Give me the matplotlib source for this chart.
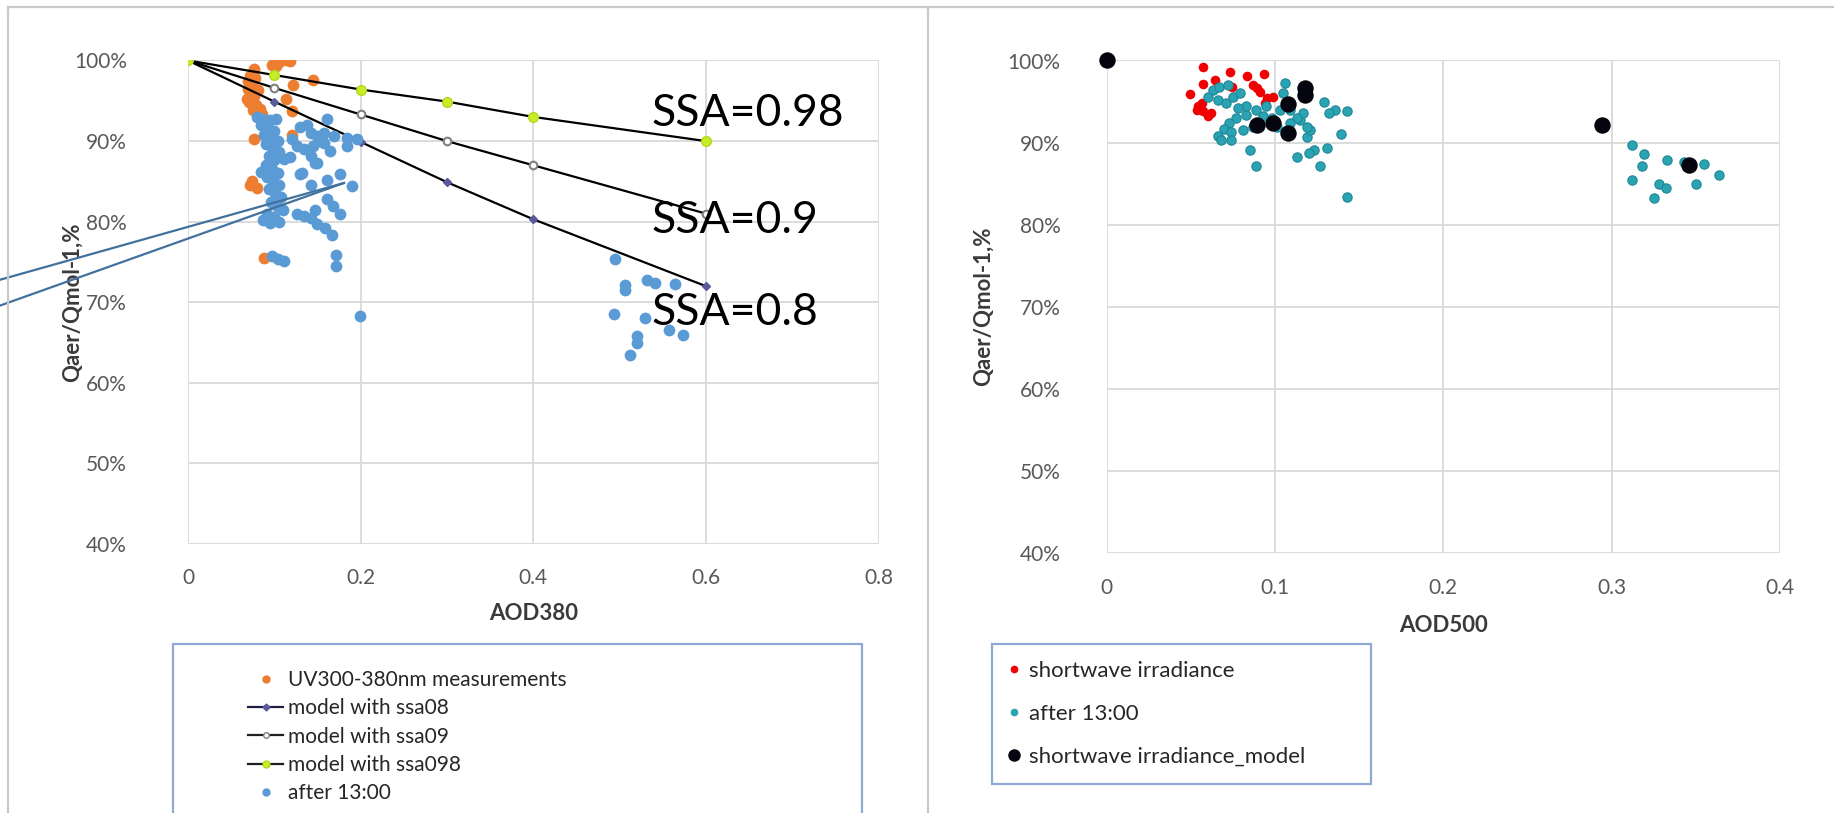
import matplotlib
matplotlib.use("Agg")
import matplotlib.pyplot as plt
from matplotlib.lines import Line2D
from matplotlib.patches import Rectangle
from matplotlib.ticker import PercentFormatter

plt.rcParams['font.family'] = ['Lato', 'DejaVu Sans']

# ---------------- left chart data (AOD380) ----------------
uv_x = [0.097, 0.105, 0.113, 0.118, 0.102, 0.076, 0.072, 0.070, 0.074, 0.069,
        0.072, 0.076, 0.068, 0.071, 0.079, 0.083, 0.075, 0.086, 0.078, 0.081,
        0.145, 0.122, 0.113, 0.120, 0.120, 0.076, 0.072, 0.080, 0.088, 0.074]
uv_y = [99.5, 99.8, 100.0, 99.9, 99.3, 98.9, 98.1, 97.5, 97.0, 96.5,
        96.0, 95.6, 95.2, 94.8, 94.5, 94.0, 93.8, 93.4, 97.8, 96.3,
        97.6, 97.0, 95.2, 93.7, 90.8, 90.2, 84.6, 84.2, 75.5, 85.0]

after_x = [0.080, 0.087, 0.095, 0.102, 0.084, 0.092, 0.100, 0.088, 0.096, 0.104,
           0.090, 0.098, 0.106, 0.094, 0.100, 0.090, 0.097, 0.104, 0.092, 0.099,
           0.106, 0.094, 0.101, 0.108, 0.096, 0.103, 0.110, 0.092, 0.100, 0.087,
           0.095, 0.105, 0.111, 0.084,
           0.161, 0.130, 0.142, 0.149, 0.157, 0.169, 0.184, 0.196, 0.126, 0.134,
           0.145, 0.157, 0.184, 0.142, 0.149, 0.130, 0.142, 0.161, 0.176, 0.190,
           0.161, 0.168, 0.176, 0.126, 0.134, 0.142, 0.132, 0.147, 0.147, 0.149,
           0.159, 0.167, 0.171, 0.172, 0.097, 0.111, 0.104, 0.199,
           0.138, 0.153, 0.165, 0.121, 0.118,
           0.495, 0.506, 0.506, 0.532, 0.541, 0.564, 0.493, 0.530, 0.520, 0.520,
           0.557, 0.574, 0.512]
after_y = [93.0, 92.8, 92.6, 92.7, 92.0, 91.6, 91.2, 90.8, 90.3, 90.0,
           89.6, 89.0, 88.6, 88.2, 87.6, 87.0, 86.5, 86.0, 85.6, 85.0,
           84.5, 84.0, 83.5, 83.0, 82.5, 82.0, 81.5, 81.0, 80.6, 80.2,
           79.8, 80.0, 87.8, 86.2,
           92.7, 91.8, 91.0, 90.6, 91.0, 90.6, 90.4, 90.2, 89.4, 89.0,
           89.4, 89.8, 89.4, 88.1, 87.3, 85.9, 84.6, 85.2, 85.9, 84.4,
           82.8, 81.9, 80.9, 80.9, 80.7, 80.5, 86.1, 87.3, 81.5, 79.7,
           79.2, 78.4, 75.9, 74.5, 75.7, 75.1, 75.4, 68.3,
           92.0, 90.0, 88.8, 90.2, 88.0,
           75.4, 72.2, 71.5, 72.8, 72.4, 72.3, 68.5, 68.1, 65.8, 65.0,
           66.6, 65.9, 63.4]

model_x = [0, 0.1, 0.2, 0.3, 0.4, 0.6]
ssa08 = [100, 94.9, 89.9, 84.9, 80.3, 72.0]
ssa09 = [100, 96.6, 93.3, 90.0, 87.0, 81.0]
ssa098 = [100, 98.2, 96.4, 94.9, 93.0, 90.0]

ssa_labels = ['SSA=0.98', 'SSA=0.9', 'SSA=0.8']
ssa_label_y = [93.4, 80.1, 68.7]

# callout pointer lines (data units of left chart)
callout_x = [-0.2175, 0.1807]
callout_y1 = [72.8, 84.8]
callout_y2 = [69.6, 84.8]

# ---------------- right chart data (AOD500) ----------------
sw_x = [0.0575, 0.0734, 0.0833, 0.0938, 0.0575, 0.0645, 0.0744, 0.0872, 0.0496, 0.0545,
        0.0575, 0.0605, 0.0535, 0.0912, 0.0952, 0.0990, 0.0942, 0.0892, 0.0570, 0.0620]
sw_y = [99.25, 98.6, 98.1, 98.4, 97.1, 97.6, 96.8, 97.0, 95.9, 94.4,
        93.8, 93.2, 94.0, 96.2, 95.4, 95.6, 94.8, 96.6, 94.8, 93.6]

aft_x = [0.106, 0.129, 0.136, 0.132, 0.143, 0.139, 0.131, 0.123, 0.120, 0.113,
         0.127, 0.143, 0.085, 0.089, 0.119, 0.121, 0.115, 0.117, 0.095, 0.103,
         0.109, 0.083, 0.077, 0.073, 0.070, 0.066, 0.063, 0.060, 0.066, 0.071,
         0.075, 0.079, 0.083, 0.089, 0.093, 0.087, 0.081, 0.074, 0.068, 0.074,
         0.113, 0.109, 0.101, 0.119, 0.105, 0.067, 0.072, 0.078, 0.098,
         0.312, 0.319, 0.318, 0.312, 0.333, 0.328, 0.332, 0.325, 0.343, 0.355,
         0.364, 0.350]
aft_y = [97.3, 95.0, 94.0, 93.6, 93.8, 91.1, 89.3, 89.1, 88.7, 88.3,
         87.1, 83.4, 89.1, 87.1, 90.7, 91.5, 92.8, 93.6, 94.4, 94.0,
         94.0, 93.4, 93.0, 92.4, 91.6, 90.8, 96.4, 95.6, 95.2, 94.8,
         95.6, 96.0, 94.4, 94.0, 93.2, 91.9, 91.5, 91.3, 90.3, 90.3,
         93.0, 92.4, 91.9, 91.9, 96.0, 96.8, 97.0, 94.2, 93.0,
         89.7, 88.6, 87.1, 85.5, 87.9, 84.9, 84.5, 83.2, 87.6, 87.4,
         86.0, 84.9]

mdl_x = [0.0, 0.0893, 0.0987, 0.108, 0.108, 0.1177, 0.118, 0.294, 0.346]
mdl_y = [100.0, 92.2, 92.35, 91.2, 94.7, 95.8, 96.6, 92.2, 87.3]

# ---------------- figure ----------------
W, H = 1834, 813
fig = plt.figure(figsize=(W / 100, H / 100), dpi=100)


def fx(px):
    return px / W


def fy(py):
    return 1 - py / H


tick_col = '#595959'
title_col = '#3A3A3A'
grid_col = '#D9D9D9'
orange = '#ED7D31'
blue = '#5B9BD5'
teal = '#2AA3B3'
FS = 15


def style_axes(ax, xmax, xstep, xlabel, ypad, xpad):
    ax.set_ylim(40, 100)
    ax.set_xlim(0, xmax)
    ax.set_yticks(range(40, 101, 10))
    ax.set_xticks([i * xstep for i in range(int(round(xmax / xstep)) + 1)])
    ax.xaxis.set_major_formatter(lambda v, p: '0' if v == 0 else ('%g' % v))
    ax.yaxis.set_major_formatter(PercentFormatter(decimals=0))
    ax.grid(True, color=grid_col, lw=1.3)
    ax.set_axisbelow(True)
    for s in ax.spines.values():
        s.set_visible(False)
    ax.tick_params(length=0, labelsize=FS, colors=tick_col)
    ax.tick_params(axis='y', pad=ypad)
    ax.tick_params(axis='x', pad=xpad)
    ax.set_ylabel('Qaer/Qmol-1,%', fontsize=FS + 1, fontweight='bold', color=title_col)
    ax.set_xlabel(xlabel, fontsize=FS + 1, fontweight='bold', color=title_col)


# left chart
ax1 = fig.add_axes([fx(188), fy(544), (878.5 - 188) / W, (544 - 60.5) / H])
style_axes(ax1, 0.8, 0.2, 'AOD380', 44, 17)
ax1.yaxis.set_label_coords(-0.152, 0.5)
ax1.xaxis.set_label_coords(0.5, -0.123)

ax1.scatter(uv_x, uv_y, s=72, color=orange, zorder=3, linewidths=0)
ax1.plot(model_x, ssa08, color='black', lw=1.6, marker='D', ms=4.5,
         mfc='#5A5A9A', mec='#5A5A9A', zorder=4)
ax1.plot(model_x, ssa09, color='black', lw=1.6, marker='o', ms=5.5,
         mfc='white', mec='#808080', mew=1.5, zorder=4)
ax1.plot(model_x, ssa098, color='black', lw=1.6, marker='o', ms=7,
         mfc='#C8EC28', mec='#B4D820', zorder=4)
ax1.scatter(after_x, after_y, s=72, color=blue, zorder=5, linewidths=0)

for lab, yy in zip(ssa_labels, ssa_label_y):
    ax1.text(0.537, yy, lab, fontsize=32, va='center', ha='left', color='black',
             zorder=6)

ax1.plot(callout_x, callout_y1, color='#41719C', lw=1.6, clip_on=False, zorder=6)
ax1.plot(callout_x, callout_y2, color='#41719C', lw=1.6, clip_on=False, zorder=6)

# right chart
ax2 = fig.add_axes([fx(1106.5), fy(553), (1780 - 1106.5) / W, (553 - 60.5) / H])
style_axes(ax2, 0.4, 0.1, 'AOD500', 33, 18)
ax2.yaxis.set_label_coords(-0.167, 0.5)
ax2.xaxis.set_label_coords(0.5, -0.126)
ax2.scatter(sw_x, sw_y, s=48, color='#F00000', zorder=3, linewidths=0)
ax2.scatter(aft_x, aft_y, s=45, color=teal, edgecolors='#1E8796',
            linewidths=0.8, zorder=4)
ax2.scatter(mdl_x, mdl_y, s=140, color='#05050F', zorder=5, linewidths=0,
            clip_on=False)

# chart-area borders
border = '#C9C9C9'
fig.add_artist(Line2D([fx(8), 1], [fy(7), fy(7)], color=border, lw=1.6))
fig.add_artist(Line2D([fx(8), fx(8)], [fy(7), 0], color=border, lw=1.6))
fig.add_artist(Line2D([fx(928), fx(928)], [fy(7), 0], color=border, lw=1.6))

# legends
leg_edge = '#8FA8D4'
fig.add_artist(Rectangle((fx(173), fy(900)), (862 - 173) / W, (900 - 644) / H,
                         transform=fig.transFigure, fill=False,
                         edgecolor=leg_edge, lw=1.6))
h1 = [Line2D([], [], ls='none', marker='o', ms=5, color=orange),
      Line2D([], [], color='#1F1F3F', lw=1.6, marker='D', ms=3.5,
             mfc='#5A5A9A', mec='#5A5A9A'),
      Line2D([], [], color='#1F1F1F', lw=1.6, marker='o', ms=4,
             mfc='white', mec='#808080'),
      Line2D([], [], color='#1F1F1F', lw=1.6, marker='o', ms=5,
             mfc='#C8EC28', mec='#B4D820'),
      Line2D([], [], ls='none', marker='o', ms=5, color=blue)]
l1 = ['UV300-380nm measurements', 'model with ssa08', 'model with ssa09',
      'model with ssa098', 'after 13:00']
fig.legend(h1, l1, loc='upper left', bbox_to_anchor=(fx(248), fy(670)),
           frameon=False, fontsize=FS, handlelength=1.7, handletextpad=0.22,
           labelspacing=0.4, borderpad=0, borderaxespad=0,
           labelcolor='#262626')

fig.add_artist(Rectangle((fx(992), fy(784)), (1371 - 992) / W, (784 - 644) / H,
                         transform=fig.transFigure, fill=False,
                         edgecolor=leg_edge, lw=1.6))
h2 = [Line2D([], [], ls='none', marker='o', ms=4.5, color='#F00000'),
      Line2D([], [], ls='none', marker='o', ms=4.5, color=teal),
      Line2D([], [], ls='none', marker='o', ms=8, color='#05050F')]
l2 = ['shortwave irradiance', 'after 13:00', 'shortwave irradiance_model']
fig.legend(h2, l2, loc='upper left', bbox_to_anchor=(fx(1003), fy(661)),
           frameon=False, fontsize=FS + 1, handlelength=0.95, handletextpad=0.2,
           labelspacing=1.02, borderpad=0, borderaxespad=0,
           labelcolor='#262626')

fig.savefig('out.png', dpi=100)
